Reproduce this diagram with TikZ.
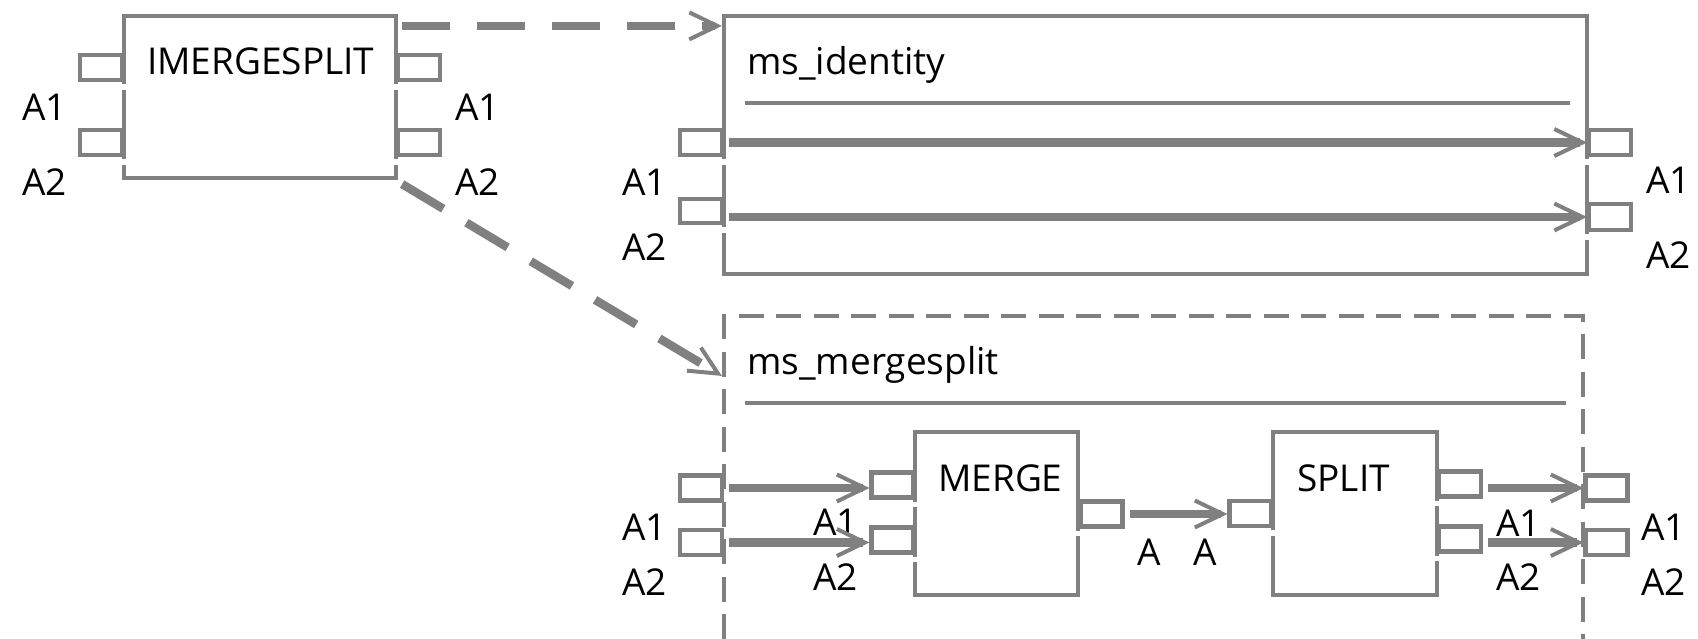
\documentclass[tikz,border=0pt]{standalone}
\usepackage{fontspec}
\setmainfont{Open Sans}
\usetikzlibrary{arrows.meta}
\definecolor{gc}{RGB}{128,128,128}
\newcommand\portgap[2]{\fill[white] ([shift={(-3.8pt,-2.1pt)}]#1.south #2) rectangle ([shift={(3.8pt,-7.5pt)}]#1.south #2);}
\begin{document}
\begin{tikzpicture}[x=1pt,y=-1pt,
  box/.style={draw=gc, line width=4.2pt, inner sep=0pt},
  port/.style={draw=gc, fill=white, line width=4.2pt, minimum width=42pt, minimum height=25pt, inner sep=0pt},
  txt/.style={font=\fontsize{37pt}{44pt}\selectfont, inner sep=0pt, text=black},
  flow/.style={draw=gc, line width=8.5pt, -{Straight Barb[length=28pt,width=27pt,line width=4pt 0]}},
  dashconn/.style={flow, dash pattern=on 48pt off 27pt},
  sepline/.style={draw=gc, line width=4.2pt}
]
\useasboundingbox (0,0) rectangle (1698,638);
\begin{scope}
\clip (0,0) rectangle (1698,638);
% boxes
\node[box, minimum width=272pt, minimum height=162pt] (ims) at (260,97) {};
\node[box, minimum width=863pt, minimum height=258pt] (msi) at (1155.5,145) {};
\node[box, dash pattern=on 25pt off 12.5pt, minimum width=859pt, minimum height=384pt] (msm) at (1153.5,508) {};
\node[box, minimum width=163pt, minimum height=163pt] (mrg) at (996.5,513.5) {};
\node[box, minimum width=164pt, minimum height=163pt] (spl) at (1355,513.5) {};
\end{scope}
% separators
\draw[sepline] (745,103) -- (1570,103);
\draw[sepline] (745,403) -- (1566,403);
% titles
\node[txt, anchor=base west] (imt) at (147,74) {IMERGESPLIT};
\node[txt, anchor=base west] (mit) at (747,74) {ms\_identity};
\node[txt, anchor=base west] (mmt) at (747,374) {ms\_mergesplit};
\node[txt, anchor=base west] (met) at (938,491) {MERGE};
\node[txt, anchor=base west] (spt) at (1297,491) {SPLIT};
% ports
\node[port] (imL1) at (101,67.5) {};
\node[port] (imL2) at (101,142.5) {};
\node[port] (imR1) at (419,67.5) {};
\node[port] (imR2) at (419,142.5) {};
\node[port] (miL1) at (701,142.5) {};
\node[port, minimum height=24pt] (miL2) at (701,211) {};
\node[port] (miR1) at (1610,142.5) {};
\node[port, minimum height=26pt] (miR2) at (1610,217) {};
\node[port] (mmL1) at (701,488) {};
\node[port] (mmL2) at (701,542.5) {};
\node[port] (mmR1) at (1606.5,488) {};
\node[port] (mmR2) at (1606.5,542.5) {};
\node[port] (meL1) at (892.5,485) {};
\node[port] (meL2) at (892.5,540) {};
\node[port] (meR) at (1101.5,514) {};
\node[port] (spL) at (1250.5,513.5) {};
\node[port] (spR1) at (1460,484) {};
\node[port] (spR2) at (1460,539) {};
% gaps in box borders below ports
\portgap{imL1}{east}\portgap{imL2}{east}\portgap{imR1}{west}\portgap{imR2}{west}
\portgap{miL1}{east}\portgap{miL2}{east}\portgap{miR1}{west}\portgap{miR2}{west}
\portgap{meL1}{east}\portgap{meL2}{east}\portgap{meR}{west}
\portgap{spL}{east}\portgap{spR1}{west}\portgap{spR2}{west}
% port labels
\node[txt, anchor=base east] (lA1a) at (67,120) {A1};
\node[txt, anchor=base east] (lA2a) at (67,195) {A2};
\node[txt, anchor=base west] (lA1b) at (455,120) {A1};
\node[txt, anchor=base west] (lA2b) at (455,195) {A2};
\node[txt, anchor=base east] (lA1c) at (667,195) {A1};
\node[txt, anchor=base east] (lA2c) at (667,260) {A2};
\node[txt, anchor=base west] (lA1d) at (1646,193) {A1};
\node[txt, anchor=base west] (lA2d) at (1646,268) {A2};
\node[txt, anchor=base east] (lA1e) at (667,540) {A1};
\node[txt, anchor=base east] (lA2e) at (667,595) {A2};
\node[txt, anchor=base east] (lA1f) at (858,535) {A1};
\node[txt, anchor=base east] (lA2f) at (858,590) {A2};
\node[txt, anchor=base west] (lAg) at (1137,565) {A};
\node[txt, anchor=base east] (lAh) at (1217,565) {A};
\node[txt, anchor=base west] (lA1i) at (1496,536) {A1};
\node[txt, anchor=base west] (lA2i) at (1496,590) {A2};
\node[txt, anchor=base west] (lA1j) at (1641,540) {A1};
\node[txt, anchor=base west] (lA2j) at (1641,595) {A2};
% flows
\draw[flow, shorten <=5pt] (miL1.east) -- (miR1.west);
\draw[flow, shorten <=5pt] (miL2.east |- miR2.west) -- (miR2.west);
\draw[flow, shorten <=5pt] (mmL1.east) -- (meL1.west |- mmL1.east);
\draw[flow, shorten <=5pt] (mmL2.east) -- (meL2.west |- mmL2.east);
\draw[flow, shorten <=5pt] (meR.east) -- (spL.west |- meR.east);
\draw[flow, shorten <=5pt] (spR1.east |- mmR1.west) -- (mmR1.west);
\draw[flow, shorten <=5pt] (spR2.east |- mmR2.west) -- (mmR2.west);
% realization connectors
\draw[dashconn] ([shift={(4pt,-12pt)}]ims.north east) -- ([yshift=-12pt]msi.north west);
\draw[dashconn] ([shift={(4pt,-4pt)}]ims.south east) -- ([yshift=-62pt]msm.north west);
\end{tikzpicture}
\end{document}
